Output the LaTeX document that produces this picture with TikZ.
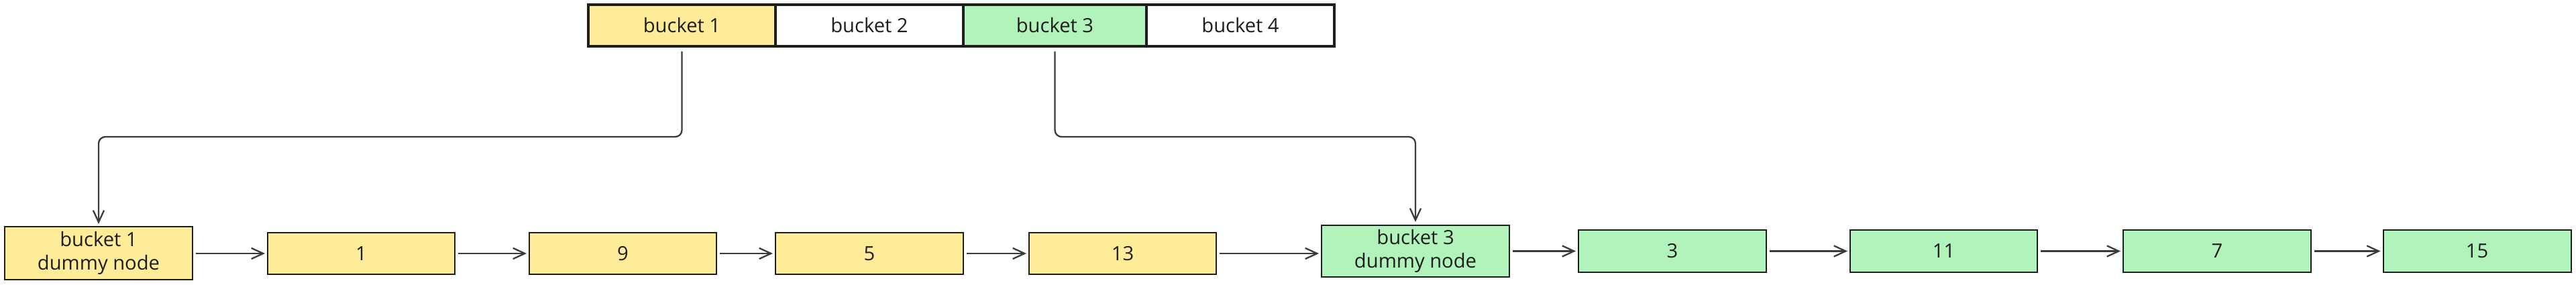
\documentclass[tikz,border=0pt]{standalone}
\usepackage{fontspec}
\setmainfont{Open Sans}
\usetikzlibrary{arrows.meta,positioning}
\definecolor{yel}{HTML}{FFEC99}
\definecolor{grn}{HTML}{B2F2BB}
\definecolor{ink}{HTML}{1E1E1E}
\definecolor{wire}{HTML}{3A3A3A}
\tikzset{
  bucketbox/.style={draw=ink, line width=0.9pt, minimum height=0.62cm, inner sep=0pt, font=\fontsize{8.3}{10}\selectfont, text=ink},
  chainbox/.style={draw=ink, line width=0.55pt, inner sep=0pt, font=\fontsize{8.3}{10}\selectfont, text=ink, align=center},
  link/.style={draw=wire, line width=0.65pt, -{Straight Barb[length=5pt,width=4.6pt,line width=0.65pt]}},
  feed/.style={link, rounded corners=0.1cm}
}
\begin{document}
\begin{tikzpicture}
\useasboundingbox (0,0) rectangle (38.4,-4.24);
% bucket array
\node[bucketbox, fill=yel, minimum width=2.79cm] (b1) at (10.165,-0.38) {bucket 1};
\node[bucketbox, fill=white, minimum width=2.80cm] (b2) at (12.96,-0.38) {bucket 2};
\node[bucketbox, fill=grn, minimum width=2.73cm] (b3) at (15.725,-0.38) {bucket 3};
\node[bucketbox, fill=white, minimum width=2.80cm] (b4) at (18.49,-0.38) {bucket 4};
% chain
\node[chainbox, fill=yel, minimum width=2.80cm, minimum height=0.79cm] (d1) at (1.47,-3.775) {bucket 1\\dummy node};
\node[chainbox, fill=yel, minimum width=2.79cm, minimum height=0.62cm] (n1) at (5.385,-3.78) {1};
\node[chainbox, fill=yel, minimum width=2.79cm, minimum height=0.62cm] (n9) at (9.285,-3.78) {9};
\node[chainbox, fill=yel, minimum width=2.80cm, minimum height=0.62cm] (n5) at (12.96,-3.78) {5};
\node[chainbox, fill=yel, minimum width=2.79cm, minimum height=0.62cm] (n13) at (16.735,-3.78) {13};
\node[chainbox, fill=grn, minimum width=2.80cm, minimum height=0.77cm] (d3) at (21.10,-3.745) {bucket 3\\dummy node};
\node[chainbox, fill=grn, minimum width=2.80cm, minimum height=0.63cm] (n3) at (24.93,-3.745) {3};
\node[chainbox, fill=grn, minimum width=2.79cm, minimum height=0.63cm] (n11) at (28.975,-3.745) {11};
\node[chainbox, fill=grn, minimum width=2.80cm, minimum height=0.63cm] (n7) at (33.05,-3.745) {7};
\node[chainbox, fill=grn, minimum width=2.80cm, minimum height=0.63cm] (n15) at (36.925,-3.745) {15};
% bucket pointers
\coordinate (k1) at (0,-2.04);
\draw[feed] ([yshift=-0.06cm]b1.south) -- (b1.south |- k1) -- (d1.north |- k1) -- ([yshift=0.03cm]d1.north);
\draw[feed] ([yshift=-0.06cm]b3.south) -- (b3.south |- k1) -- (d3.north |- k1) -- ([yshift=0.04cm]d3.north);
% chain links
\draw[link] ([xshift=0.04cm]d1.east |- n1) -- ([xshift=-0.03cm]n1.west);
\draw[link] ([xshift=0.04cm]n1.east) -- ([xshift=-0.03cm]n9.west);
\draw[link] ([xshift=0.04cm]n9.east) -- ([xshift=-0.03cm]n5.west);
\draw[link] ([xshift=0.04cm]n5.east) -- ([xshift=-0.03cm]n13.west);
\draw[link] ([xshift=0.04cm]n13.east) -- ([xshift=-0.03cm]d3.west |- n13);
\draw[link] ([xshift=0.04cm]d3.east |- n3) -- ([xshift=-0.03cm]n3.west);
\draw[link] ([xshift=0.04cm]n3.east) -- ([xshift=-0.03cm]n11.west);
\draw[link] ([xshift=0.04cm]n11.east) -- ([xshift=-0.03cm]n7.west);
\draw[link] ([xshift=0.04cm]n7.east) -- ([xshift=-0.03cm]n15.west);
\end{tikzpicture}
\end{document}
